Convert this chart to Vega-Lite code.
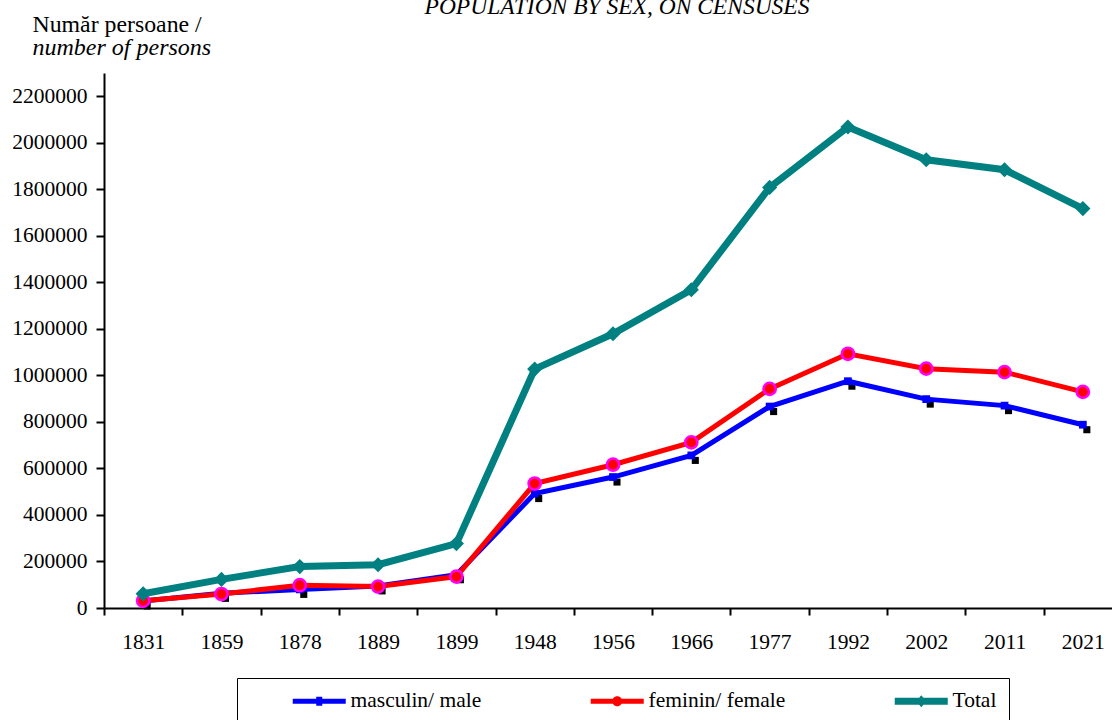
{
  "$schema": "https://vega.github.io/schema/vega-lite/v6.json",
  "width": 1008,
  "height": 535,
  "autosize": {"type": "none"},
  "padding": {"left": 104, "top": 73, "right": 0, "bottom": 112},
  "background": "white",
  "title": {
    "text": "POPULATION BY SEX, ON CENSUSES",
    "font": "Liberation Serif",
    "fontSize": 23.5,
    "fontStyle": "italic",
    "fontWeight": "normal",
    "color": "black",
    "anchor": "middle",
    "frame": "group",
    "dx": 9,
    "dy": 27.5,
    "offset": 2,
    "baseline": "alphabetic"
  },
  "data": {
    "values": [
      {"year": "1831", "series": "masculin/ male", "value": 30000},
      {"year": "1859", "series": "masculin/ male", "value": 63000},
      {"year": "1878", "series": "masculin/ male", "value": 80000},
      {"year": "1889", "series": "masculin/ male", "value": 95000},
      {"year": "1899", "series": "masculin/ male", "value": 143000},
      {"year": "1948", "series": "masculin/ male", "value": 492000},
      {"year": "1956", "series": "masculin/ male", "value": 563000},
      {"year": "1966", "series": "masculin/ male", "value": 656000},
      {"year": "1977", "series": "masculin/ male", "value": 866000},
      {"year": "1992", "series": "masculin/ male", "value": 975000},
      {"year": "2002", "series": "masculin/ male", "value": 898000},
      {"year": "2011", "series": "masculin/ male", "value": 870000},
      {"year": "2021", "series": "masculin/ male", "value": 788000},
      {"year": "1831", "series": "feminin/ female", "value": 31000},
      {"year": "1859", "series": "feminin/ female", "value": 60000},
      {"year": "1878", "series": "feminin/ female", "value": 98000},
      {"year": "1889", "series": "feminin/ female", "value": 92000},
      {"year": "1899", "series": "feminin/ female", "value": 135000},
      {"year": "1948", "series": "feminin/ female", "value": 535000},
      {"year": "1956", "series": "feminin/ female", "value": 616000},
      {"year": "1966", "series": "feminin/ female", "value": 712000},
      {"year": "1977", "series": "feminin/ female", "value": 942000},
      {"year": "1992", "series": "feminin/ female", "value": 1093000},
      {"year": "2002", "series": "feminin/ female", "value": 1029000},
      {"year": "2011", "series": "feminin/ female", "value": 1014000},
      {"year": "2021", "series": "feminin/ female", "value": 929000},
      {"year": "1831", "series": "Total", "value": 61000},
      {"year": "1859", "series": "Total", "value": 123000},
      {"year": "1878", "series": "Total", "value": 178000},
      {"year": "1889", "series": "Total", "value": 186000},
      {"year": "1899", "series": "Total", "value": 277000},
      {"year": "1948", "series": "Total", "value": 1027000},
      {"year": "1956", "series": "Total", "value": 1179000},
      {"year": "1966", "series": "Total", "value": 1368000},
      {"year": "1977", "series": "Total", "value": 1808000},
      {"year": "1992", "series": "Total", "value": 2068000},
      {"year": "2002", "series": "Total", "value": 1927000},
      {"year": "2011", "series": "Total", "value": 1884000},
      {"year": "2021", "series": "Total", "value": 1717000}
    ]
  },
  "config": {
    "view": {"stroke": null},
    "font": "Liberation Serif",
    "axis": {
      "domainColor": "black",
      "domainWidth": 2,
      "tickColor": "black",
      "tickWidth": 2,
      "labelColor": "black",
      "labelFont": "Liberation Serif",
      "labelFontSize": 21.5,
      "grid": false,
      "titleFont": "Liberation Serif",
      "titleColor": "black",
      "titleFontWeight": "normal",
      "titleFontSize": 23.8
    },
    "axisX": {"tickBand": "extent", "tickSize": 7, "labelPadding": 16, "labelAngle": 0, "title": null},
    "legend": {
      "orient": "none", "legendX": 133, "legendY": 605, "direction": "horizontal",
      "labelFont": "Liberation Serif", "labelFontSize": 21.5, "labelColor": "black",
      "symbolSize": 400, "symbolStrokeWidth": 0, "symbolOffset": 43, "labelOffset": 37,
      "columnPadding": 65, "padding": 12, "strokeColor": "black"
    }
  },
  "layer": [
    {
      "encoding": {
        "x": {"field": "year", "type": "ordinal", "bandPosition": 0.5, "scale": {"type": "band", "paddingInner": 0, "paddingOuter": 0, "range": [0, 1018]}, "axis": {"title": null}},
        "y": {
          "field": "value", "type": "quantitative",
          "scale": {"domain": [0, 2300000], "nice": false, "zero": true},
          "axis": {
            "values": [0, 200000, 400000, 600000, 800000, 1000000, 1200000, 1400000, 1600000, 1800000, 2000000, 2200000],
            "format": "d", "tickSize": 8, "labelPadding": 9,
            "title": "Număr persoane /", "titleAngle": 0, "titleAlign": "left", "titleBaseline": "alphabetic",
            "titleX": -72, "titleY": -42
          }
        }
      },
      "layer": [
        {
          "transform": [{"filter": "datum.series === 'masculin/ male'"}],
          "mark": {"type": "point", "shape": "square", "filled": true, "color": "black", "size": 50, "opacity": 1, "xOffset": 4, "yOffset": 5}
        },
        {
          "transform": [{"filter": "datum.series === 'masculin/ male'"}],
          "mark": {"type": "line", "color": "#0000ff", "strokeWidth": 5}
        },
        {
          "transform": [{"filter": "datum.series === 'masculin/ male'"}],
          "mark": {"type": "point", "shape": "square", "filled": true, "color": "#0000ff", "size": 60, "opacity": 1}
        },
        {
          "transform": [{"filter": "datum.series === 'feminin/ female'"}],
          "mark": {"type": "line", "color": "#ff0000", "strokeWidth": 5}
        },
        {
          "transform": [{"filter": "datum.series === 'feminin/ female'"}],
          "mark": {"type": "point", "shape": "circle", "filled": true, "fill": "#ff0000", "stroke": "#ff00ff", "strokeWidth": 2.5, "size": 150, "opacity": 1}
        },
        {
          "transform": [{"filter": "datum.year === '1831'"}],
          "mark": {"type": "point", "filled": true, "size": 0, "opacity": 1, "strokeWidth": 0},
          "encoding": {
            "color": {
              "field": "series", "type": "nominal", "title": null,
              "scale": {"domain": ["masculin/ male", "feminin/ female", "Total"], "range": ["#0000ff", "#ff0000", "#008080"]},
              "legend": {
                "title": null,
                "labelExpr": "datum.label === 'Total' ? 'Total\u00a0\u00a0\u00a0\u00a0\u00a0\u00a0\u00a0\u00a0\u00a0\u00a0\u00a0' : datum.label",
                "encode": {"legend": {"strokeWidth": {"value": 2}}}
              }
            },
            "shape": {
              "field": "series", "type": "nominal", "title": null,
              "scale": {
                "domain": ["masculin/ male", "feminin/ female", "Total"],
                "range": [
                  "M-1,-0.25H4.3V0.25H-1Z M1.35,-0.45H1.95V0.45H1.35Z",
                  "M-1,-0.25H4.3V0.25H-1Z M1.15,0A0.5,0.5,0,0,1,2.15,0A0.5,0.5,0,0,1,1.15,0Z",
                  "M-1,-0.35H4.3V0.35H-1Z M1.15,0L1.65,-0.6L2.15,0L1.65,0.6Z"
                ]
              },
              "legend": {
                "title": null,
                "labelExpr": "datum.label === 'Total' ? 'Total\u00a0\u00a0\u00a0\u00a0\u00a0\u00a0\u00a0\u00a0\u00a0\u00a0\u00a0' : datum.label",
                "encode": {"legend": {"strokeWidth": {"value": 2}}}
              }
            }
          }
        }
      ]
    },
    {
      "encoding": {
        "x": {"field": "year", "type": "ordinal", "bandPosition": 0.5, "scale": {"type": "band", "paddingInner": 0, "paddingOuter": 0, "range": [0, 1018]}, "axis": {"title": null}},
        "y": {
          "field": "value", "type": "quantitative",
          "scale": {"domain": [0, 2300000], "nice": false, "zero": true},
          "axis": {
            "orient": "left", "labels": false, "ticks": false, "domain": false, "grid": false,
            "title": "number of persons", "titleFontStyle": "italic", "titleFontSize": 24, "titleAngle": 0, "titleAlign": "left", "titleBaseline": "alphabetic",
            "titleX": -72, "titleY": -19
          }
        }
      },
      "layer": [
        {
          "transform": [{"filter": "datum.series === 'Total'"}],
          "mark": {"type": "line", "color": "#008080", "strokeWidth": 7}
        },
        {
          "transform": [{"filter": "datum.series === 'Total'"}],
          "mark": {"type": "point", "shape": "diamond", "filled": true, "color": "#008080", "size": 230, "opacity": 1}
        }
      ]
    }
  ],
  "resolve": {"scale": {"y": "independent"}}
}
